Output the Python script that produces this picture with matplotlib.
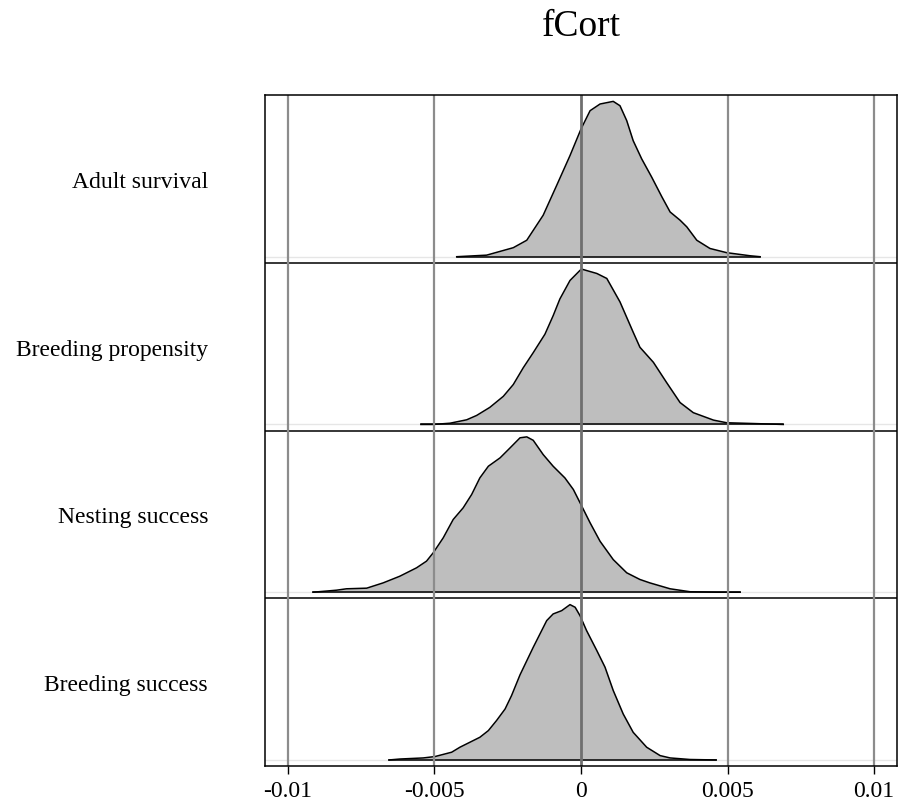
import matplotlib
matplotlib.use("Agg")
import numpy as np
import matplotlib.pyplot as plt

plt.rcParams['font.family'] = ['Liberation Serif', 'DejaVu Serif']

# panel labels, top to bottom
labels = ["Adult survival", "Breeding propensity", "Nesting success", "Breeding success"]

# density outlines: x in units of 1e-3, height relative to each peak
adult_x = [-4.24, -3.22, -2.31, -1.85, -1.29, -0.83, -0.375, 0.0, 0.31, 0.65, 1.10, 1.33,
           1.56, 1.78, 2.07, 2.41, 2.76, 3.04, 3.38, 3.61, 3.95, 4.40, 4.97, 5.77, 6.11]
adult_h = [0.0, 0.01, 0.058, 0.106, 0.267, 0.459, 0.651, 0.822, 0.94, 0.983, 1.0, 0.972,
           0.876, 0.747, 0.63, 0.513, 0.385, 0.288, 0.235, 0.192, 0.106, 0.053, 0.026, 0.006, 0.0]

prop_x = [-5.46, -5.04, -4.47, -3.90, -3.56, -3.11, -2.65, -2.31, -1.97, -1.63, -1.23, -0.95,
          -0.72, -0.375, -0.034, 0.024, 0.54, 0.88, 1.33, 1.78, 2.01, 2.47, 2.92, 3.38, 3.83,
          4.52, 4.97, 5.88, 6.90]
prop_h = [0.0, 0.0, 0.008, 0.03, 0.058, 0.11, 0.181, 0.257, 0.365, 0.462, 0.581, 0.70,
          0.808, 0.927, 0.992, 1.0, 0.972, 0.94, 0.789, 0.594, 0.497, 0.40, 0.27, 0.141, 0.076,
          0.028, 0.011, 0.006, 0.0]

nest_x = [-9.14, -8.34, -8.0, -7.31, -6.75, -6.18, -5.61, -5.27, -5.04, -4.70, -4.36, -4.02,
          -3.73, -3.45, -3.16, -2.76, -2.42, -2.08, -1.85, -1.63, -1.29, -0.95, -0.55, -0.26,
          -0.03, 0.31, 0.65, 1.10, 1.56, 2.01, 2.35, 3.04, 3.72, 4.63, 5.43]
nest_h = [0.0, 0.013, 0.022, 0.026, 0.06, 0.103, 0.157, 0.2, 0.254, 0.35, 0.468, 0.543,
          0.629, 0.736, 0.811, 0.865, 0.929, 0.994, 1.0, 0.978, 0.886, 0.811, 0.736, 0.661,
          0.575, 0.447, 0.328, 0.21, 0.125, 0.082, 0.06, 0.022, 0.003, 0.0, 0.0]

succ_x = [-6.55, -6.18, -5.38, -4.98, -4.41, -4.13, -3.79, -3.45, -3.16, -2.88, -2.59, -2.37,
          -2.08, -1.63, -1.17, -0.95, -0.66, -0.375, -0.20, -0.034, 0.19, 0.54, 0.82, 1.10,
          1.44, 1.78, 2.24, 2.70, 3.04, 3.72, 4.61]
succ_h = [0.0, 0.006, 0.013, 0.022, 0.05, 0.082, 0.114, 0.146, 0.189, 0.254, 0.328, 0.414,
          0.548, 0.725, 0.897, 0.94, 0.961, 1.0, 0.983, 0.929, 0.833, 0.704, 0.597, 0.447,
          0.296, 0.178, 0.082, 0.028, 0.013, 0.003, 0.0]

curves = [(adult_x, adult_h), (prop_x, prop_h), (nest_x, nest_h), (succ_x, succ_h)]

xticks = [-0.01, -0.005, 0, 0.005, 0.01]
xticklabels = ["-0.01", "-0.005", "0", "0.005", "0.01"]

fig = plt.figure(figsize=(9.02, 8.04), dpi=100)
ax = fig.add_axes([265 / 902, 1 - 767 / 804, 632 / 902, 671 / 804])

n = len(labels)
base_off = 0.036
peak = 0.926
for k, (cx, ch) in enumerate(curves):
    lvl = n - 1 - k
    x = np.array(cx) * 1e-3
    y = lvl + base_off + peak * np.array(ch)
    ax.axhline(lvl + base_off, color='#e6e6e6', lw=1.0, zorder=1)
    ax.fill_between(x, lvl + base_off, y, color='#bebebe', lw=0, zorder=2)
    ax.plot(x, y, color='black', lw=1.1, zorder=3, solid_joinstyle='round')
    ax.plot([x[0], x[-1]], [lvl + base_off] * 2, color='black', lw=1.1, zorder=3)
    if lvl > 0:
        ax.axhline(lvl, color='black', lw=1.1, zorder=4)

for v in xticks:
    if v == 0:
        ax.axvline(v, color='#6f6f6f', lw=2.0, zorder=5)
    else:
        ax.axvline(v, color='#8c8c8c', lw=1.6, zorder=5)

ax.set_xlim(-0.01078, 0.01078)
ax.set_ylim(0, n)
ax.set_xticks(xticks)
ax.set_xticklabels(xticklabels, fontsize=17)
ax.set_yticks([n - 1 - k + 0.5 for k in range(n)])
ax.set_yticklabels(labels, fontsize=17)
ax.tick_params(axis='y', length=0, pad=41)
ax.tick_params(axis='x', length=6, width=1.0, pad=4, direction='out')
for s in ax.spines.values():
    s.set_linewidth(1.1)
    s.set_zorder(6)

fig.text(581 / 902, 1 - 27 / 804, "fCort", fontsize=27, ha='center', va='center')

fig.savefig("out.png", dpi=100)
